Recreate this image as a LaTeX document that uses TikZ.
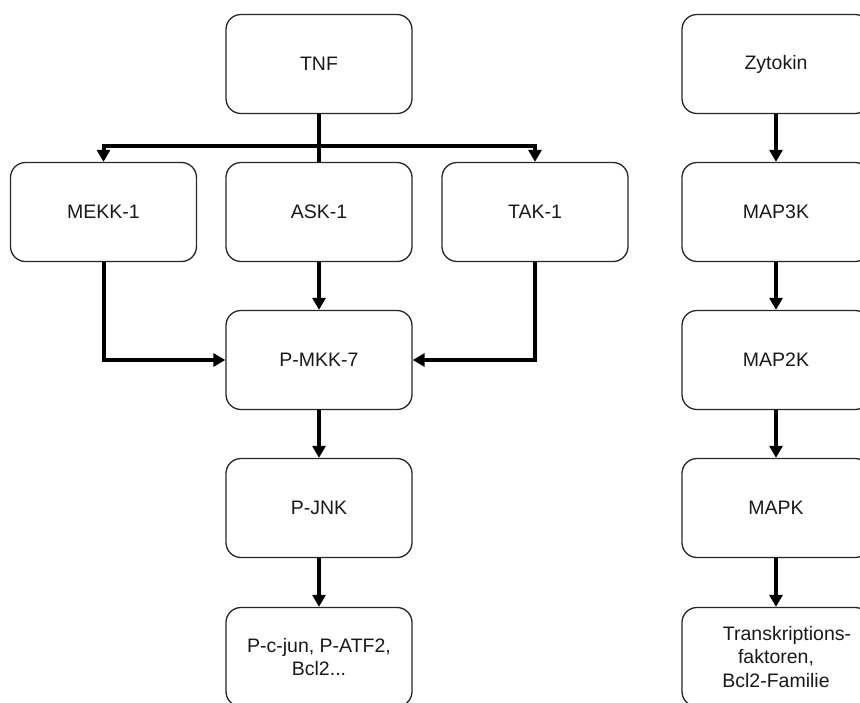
\documentclass[tikz,border=0pt]{standalone}
\usepackage{fontspec}
\setmainfont{Liberation Sans}
\usetikzlibrary{arrows.meta}
\begin{document}
\begin{tikzpicture}[x=1pt,y=-1pt,
  box/.style={draw=black!85, line width=1.3pt, rounded corners=15pt,
    minimum width=186pt, minimum height=99pt, inner sep=2pt, align=center,
    font=\fontsize{19.5}{23.5}\selectfont, text=black!90},
  conn/.style={line width=4pt},
  arr/.style={line width=4pt, -{Triangle[length=12pt,width=13pt]}}]
\useasboundingbox (0,0) rectangle (860,702);
\node[box] (tnf)  at (319,64)  {TNF};
\node[box] (mekk) at (103.5,212) {MEKK-1};
\node[box] (ask)  at (319,212) {ASK-1};
\node[box] (tak)  at (535,212) {TAK-1};
\node[box] (mkk)  at (319,360) {P-MKK-7};
\node[box] (jnk)  at (319,508) {P-JNK};
\node[box] (pc)   at (319,657) {P-c-jun, P-ATF2,\\Bcl2...};
\node[box, minimum width=188pt] (zyt)  at (776,64)  {Zytokin};
\node[box, minimum width=188pt] (m3k)  at (776,212) {MAP3K};
\node[box, minimum width=188pt] (m2k)  at (776,360) {MAP2K};
\node[box, minimum width=188pt] (mapk) at (776,508) {MAPK};
\node[box, minimum width=188pt] (tf)   at (776,657) {\hspace*{22pt}Transkriptions-\\faktoren,\\Bcl2-Familie};
\coordinate (bar) at (319,146);
\draw[conn] (tnf.south) -- (ask.north);
\draw[arr] (bar) -| (mekk.north);
\draw[arr] (bar) -| (tak.north);
\draw[arr] (ask.south) -- (mkk.north);
\draw[arr] (mekk.south) |- (mkk.west);
\draw[arr] (tak.south) |- (mkk.east);
\draw[arr] (mkk.south) -- (jnk.north);
\draw[arr] (jnk.south) -- (pc.north);
\draw[arr] (zyt.south) -- (m3k.north);
\draw[arr] (m3k.south) -- (m2k.north);
\draw[arr] (m2k.south) -- (mapk.north);
\draw[arr] (mapk.south) -- (tf.north);
\end{tikzpicture}
\end{document}
